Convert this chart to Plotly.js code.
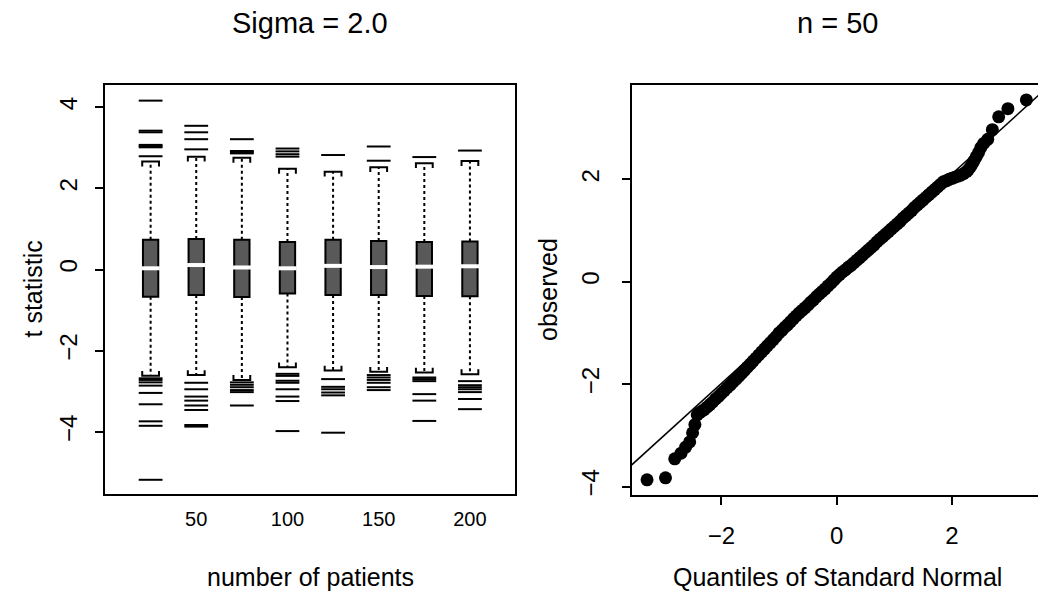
<!DOCTYPE html>
<html>
<head>
<meta charset="utf-8">
<script src="https://cdn.plot.ly/plotly-3.0.1.min.js"></script>
<style>
  html, body { margin: 0; padding: 0; background: #ffffff; }
  #chart { width: 1038px; height: 594px; }
</style>
</head>
<body>
<div id="chart"></div>
<script>
// ---------------- data ----------------
// Left panel: t statistic by number of patients (Sigma = 2.0)
const patients    = [25, 50, 75, 100, 125, 150, 175, 200];
const q1          = [-0.67, -0.63, -0.68, -0.59, -0.63, -0.63, -0.65, -0.66];
const medians     = [0.03, 0.11, 0.05, 0.03, 0.09, 0.06, 0.07, 0.08];
const q3          = [0.73, 0.75, 0.73, 0.68, 0.73, 0.70, 0.68, 0.69];
const whiskerLow  = [-2.62, -2.60, -2.72, -2.41, -2.49, -2.52, -2.54, -2.58];
const whiskerHigh = [2.66, 2.78, 2.75, 2.48, 2.41, 2.52, 2.62, 2.67];

const outliers25  = [4.16, 3.42, 3.38, 3.07, 3.04, 3.01, 2.79, -2.68, -2.72, -2.78, -2.86, -3.04, -3.32, -3.74, -3.85, -5.18];
const outliers50  = [3.54, 3.38, 3.21, 2.96, -2.79, -2.95, -3.13, -3.23, -3.35, -3.46, -3.83, -3.87];
const outliers75  = [3.21, 2.92, 2.89, 2.86, -2.78, -2.84, -2.90, -2.97, -3.02, -3.35];
const outliers100 = [2.98, 2.91, 2.84, 2.78, -2.57, -2.62, -2.74, -2.79, -2.95, -3.13, -3.24, -3.98];
const outliers125 = [2.82, -2.70, -2.89, -2.95, -3.03, -3.10, -4.02];
const outliers150 = [3.03, 2.68, -2.60, -2.66, -2.72, -2.79, -2.90, -2.97];
const outliers175 = [2.77, -2.66, -2.70, -2.75, -3.07, -3.23, -3.73];
const outliers200 = [2.93, -2.75, -2.85, -2.90, -2.95, -3.02, -3.19, -3.44];

const leftXTicks  = [50, 100, 150, 200];
const leftYTicks  = [-4, -2, 0, 2, 4];

// Right panel: normal QQ plot of the n = 50 sample
const qqTheoretical = [-3.29, -2.97, -2.81, -2.70, -2.62, -2.55, -2.50, -2.46, -2.42, -2.38, -2.34,
  -2.30, -2.25, -2.20, -2.15, -2.10, -2.05, -2.00, -1.95, -1.90, -1.85, -1.80, -1.75, -1.70,
  -1.65, -1.60, -1.55, -1.50, -1.45, -1.40, -1.35, -1.30, -1.25, -1.20, -1.15, -1.10, -1.05,
  -1.00, -0.95, -0.90, -0.85, -0.80, -0.75, -0.70, -0.65, -0.60, -0.55, -0.50, -0.45, -0.40,
  -0.35, -0.30, -0.25, -0.20, -0.15, -0.10, -0.05, 0.00, 0.05, 0.10, 0.15, 0.20, 0.25, 0.30,
  0.35, 0.40, 0.45, 0.50, 0.55, 0.60, 0.65, 0.70, 0.75, 0.80, 0.85, 0.90, 0.95, 1.00, 1.05,
  1.10, 1.15, 1.20, 1.25, 1.30, 1.35, 1.40, 1.45, 1.50, 1.55, 1.60, 1.65, 1.70, 1.75, 1.80,
  1.85, 1.90, 1.95, 2.00, 2.05, 2.10, 2.15, 2.20, 2.25, 2.28, 2.32, 2.35, 2.38, 2.42, 2.46,
  2.50, 2.55, 2.62, 2.70, 2.81, 2.97, 3.29];
const qqObserved = [-3.87, -3.83, -3.46, -3.35, -3.23, -3.13, -2.95, -2.79, -2.60, -2.56, -2.53,
  -2.50, -2.45, -2.40, -2.35, -2.29, -2.24, -2.18, -2.13, -2.07, -2.02, -1.96, -1.91, -1.85,
  -1.79, -1.73, -1.67, -1.61, -1.55, -1.49, -1.43, -1.37, -1.31, -1.25, -1.19, -1.13, -1.07,
  -1.00, -0.95, -0.89, -0.84, -0.78, -0.72, -0.665, -0.61, -0.56, -0.51, -0.46, -0.40, -0.35,
  -0.29, -0.24, -0.19, -0.14, -0.08, -0.03, 0.03, 0.09, 0.14, 0.19, 0.23, 0.28, 0.32, 0.37,
  0.42, 0.47, 0.52, 0.57, 0.62, 0.67, 0.72, 0.78, 0.83, 0.88, 0.93, 0.98, 1.03, 1.08, 1.13,
  1.18, 1.24, 1.29, 1.34, 1.39, 1.45, 1.50, 1.55, 1.60, 1.65, 1.70, 1.75, 1.80, 1.85, 1.90,
  1.95, 1.97, 2.00, 2.02, 2.04, 2.06, 2.08, 2.11, 2.15, 2.18, 2.24, 2.30, 2.36, 2.44, 2.52,
  2.62, 2.70, 2.78, 2.97, 3.22, 3.38, 3.55];
const qqSampleQ1 = -0.63;   // sample quartiles (used by the reference line, as qqline does)
const qqSampleQ3 = 0.75;
const rightXTicks = [-2, 0, 2];
const rightYTicks = [-4, -2, 0, 2];

// ---------------- style constants ----------------
const FONT = '"Liberation Sans", Arial, Helvetica, sans-serif';
const W = 1038, H = 594;
const BOX_WIDTH = 8.4;       // x units
const CAP_HALF = 4.6;        // x units
const CAP_TICK = 0.12;       // y units
const outlierGroups = [outliers25, outliers50, outliers75, outliers100,
                       outliers125, outliers150, outliers175, outliers200];
const minusLabel = v => v < 0 ? '\u2212' + Math.abs(v) : String(v);

// ---------------- build traces from the data ----------------
const boxTrace = {
  type: 'bar', x: patients, base: q1,
  y: q3.map((v, i) => v - q1[i]),
  width: BOX_WIDTH,
  marker: { color: '#595959', line: { color: '#000000', width: 2 } },
  xaxis: 'x', yaxis: 'y', hoverinfo: 'skip'
};

const wx = [], wy = [];
patients.forEach((p, i) => {
  wx.push(p, p, null, p, p, null);
  wy.push(q3[i], whiskerHigh[i], null, q1[i], whiskerLow[i], null);
});
const whiskerTrace = {
  type: 'scatter', mode: 'lines', x: wx, y: wy,
  line: { color: '#000000', width: 2, dash: '3px,3px' },
  xaxis: 'x', yaxis: 'y', hoverinfo: 'skip'
};

const cx = [], cy = [];
patients.forEach((p, i) => {
  const hi = whiskerHigh[i], lo = whiskerLow[i];
  cx.push(p - CAP_HALF, p - CAP_HALF, p + CAP_HALF, p + CAP_HALF, null);
  cy.push(hi - CAP_TICK, hi, hi, hi - CAP_TICK, null);
  cx.push(p - CAP_HALF, p - CAP_HALF, p + CAP_HALF, p + CAP_HALF, null);
  cy.push(lo + CAP_TICK, lo, lo, lo + CAP_TICK, null);
});
const capTrace = {
  type: 'scatter', mode: 'lines', x: cx, y: cy,
  line: { color: '#000000', width: 2 },
  xaxis: 'x', yaxis: 'y', hoverinfo: 'skip'
};

const ox = [], oy = [];
outlierGroups.forEach((g, i) => g.forEach(v => { ox.push(patients[i]); oy.push(v); }));
const outlierTrace = {
  type: 'scatter', mode: 'markers', x: ox, y: oy,
  marker: { symbol: 'line-ew', size: 17, color: '#000000',
            line: { color: '#000000', width: 2 } },
  xaxis: 'x', yaxis: 'y', hoverinfo: 'skip'
};

const medianTrace = {
  type: 'scatter', mode: 'markers', x: patients, y: medians,
  marker: { symbol: 'line-ew', size: 13, color: '#ffffff',
            line: { color: '#ffffff', width: 4 } },
  xaxis: 'x', yaxis: 'y', hoverinfo: 'skip'
};

const qqPoints = {
  type: 'scatter', mode: 'markers', x: qqTheoretical, y: qqObserved,
  marker: { symbol: 'circle', size: 13, color: '#000000' },
  xaxis: 'x2', yaxis: 'y2', hoverinfo: 'skip'
};

// qqline: through the sample quartiles vs the normal quartiles
const zq = 0.6744898;
const slope = (qqSampleQ3 - qqSampleQ1) / (2 * zq);
const intercept = qqSampleQ1 + slope * zq;
const lineX = [-4, 4];
const qqLine = {
  type: 'scatter', mode: 'lines', x: lineX, y: lineX.map(v => intercept + slope * v),
  line: { color: '#000000', width: 1.5 },
  xaxis: 'x2', yaxis: 'y2', hoverinfo: 'skip'
};

// ---------------- layout ----------------
const px2x = v => v / W;
const px2y = v => 1 - v / H;
const axisCommon = {
  showgrid: false, zeroline: false, showline: true,
  linecolor: '#000000', linewidth: 2,
  tickcolor: '#000000', tickwidth: 2,
  tickfont: { family: FONT, size: 24, color: '#000000' },
  fixedrange: true
};

const layout = {
  width: W, height: H,
  margin: { l: 0, r: 0, t: 0, b: 0, pad: 0 },
  paper_bgcolor: '#ffffff', plot_bgcolor: '#ffffff',
  showlegend: false,
  font: { family: FONT, color: '#000000' },
  xaxis: Object.assign({}, axisCommon, {
    domain: [px2x(105), px2x(515)], range: [0, 224.7], anchor: 'y',
    tickmode: 'array', tickvals: leftXTicks, ticktext: leftXTicks.map(String),
    ticks: '', mirror: true, tickfont: { family: FONT, size: 20, color: '#000000' },
    ticklabelstandoff: 6
  }),
  yaxis: Object.assign({}, axisCommon, {
    domain: [px2y(494), px2y(85)], range: [-5.53, 4.545], anchor: 'x',
    tickmode: 'array', tickvals: leftYTicks, ticktext: leftYTicks.map(minusLabel),
    ticks: 'outside', ticklen: 8, tickangle: -90, mirror: true,
    ticklabelstandoff: 8
  }),
  xaxis2: Object.assign({}, axisCommon, {
    domain: [px2x(632), 1], range: [-3.551, 3.492], anchor: 'y2',
    tickmode: 'array', tickvals: rightXTicks, ticktext: rightXTicks.map(minusLabel),
    ticks: 'outside', ticklen: 8, mirror: true,
    ticklabelstandoff: 10
  }),
  yaxis2: Object.assign({}, axisCommon, {
    domain: [px2y(495), px2y(85)], range: [-4.166, 3.842], anchor: 'x2',
    tickmode: 'array', tickvals: rightYTicks, ticktext: rightYTicks.map(minusLabel),
    ticks: 'outside', ticklen: 8, tickangle: -90, mirror: false,
    ticklabelstandoff: 13
  }),
  annotations: [
    { text: 'Sigma = 2.0', x: px2x(310), y: px2y(23), xref: 'paper', yref: 'paper',
      xanchor: 'center', yanchor: 'middle', showarrow: false, font: { family: FONT, size: 29, color: '#000000' } },
    { text: 'n = 50', x: px2x(837), y: px2y(23), xref: 'paper', yref: 'paper',
      xanchor: 'center', yanchor: 'middle', showarrow: false, font: { family: FONT, size: 29, color: '#000000' } },
    { text: 'number of patients', x: px2x(310), y: px2y(577), xref: 'paper', yref: 'paper',
      xanchor: 'center', yanchor: 'middle', showarrow: false, font: { family: FONT, size: 25, color: '#000000' } },
    { text: 'Quantiles of Standard Normal', x: px2x(837), y: px2y(577), xref: 'paper', yref: 'paper',
      xanchor: 'center', yanchor: 'middle', showarrow: false, font: { family: FONT, size: 25, color: '#000000' } },
    { text: 't statistic', x: px2x(32), y: px2y(289.5), xref: 'paper', yref: 'paper', textangle: -90,
      xanchor: 'center', yanchor: 'middle', showarrow: false, font: { family: FONT, size: 25, color: '#000000' } },
    { text: 'observed', x: px2x(548), y: px2y(290), xref: 'paper', yref: 'paper', textangle: -90,
      xanchor: 'center', yanchor: 'middle', showarrow: false, font: { family: FONT, size: 25, color: '#000000' } }
  ]
};

Plotly.newPlot('chart',
  [whiskerTrace, capTrace, boxTrace, medianTrace, outlierTrace, qqLine, qqPoints],
  layout, { displayModeBar: false, staticPlot: true });
</script>
</body>
</html>
